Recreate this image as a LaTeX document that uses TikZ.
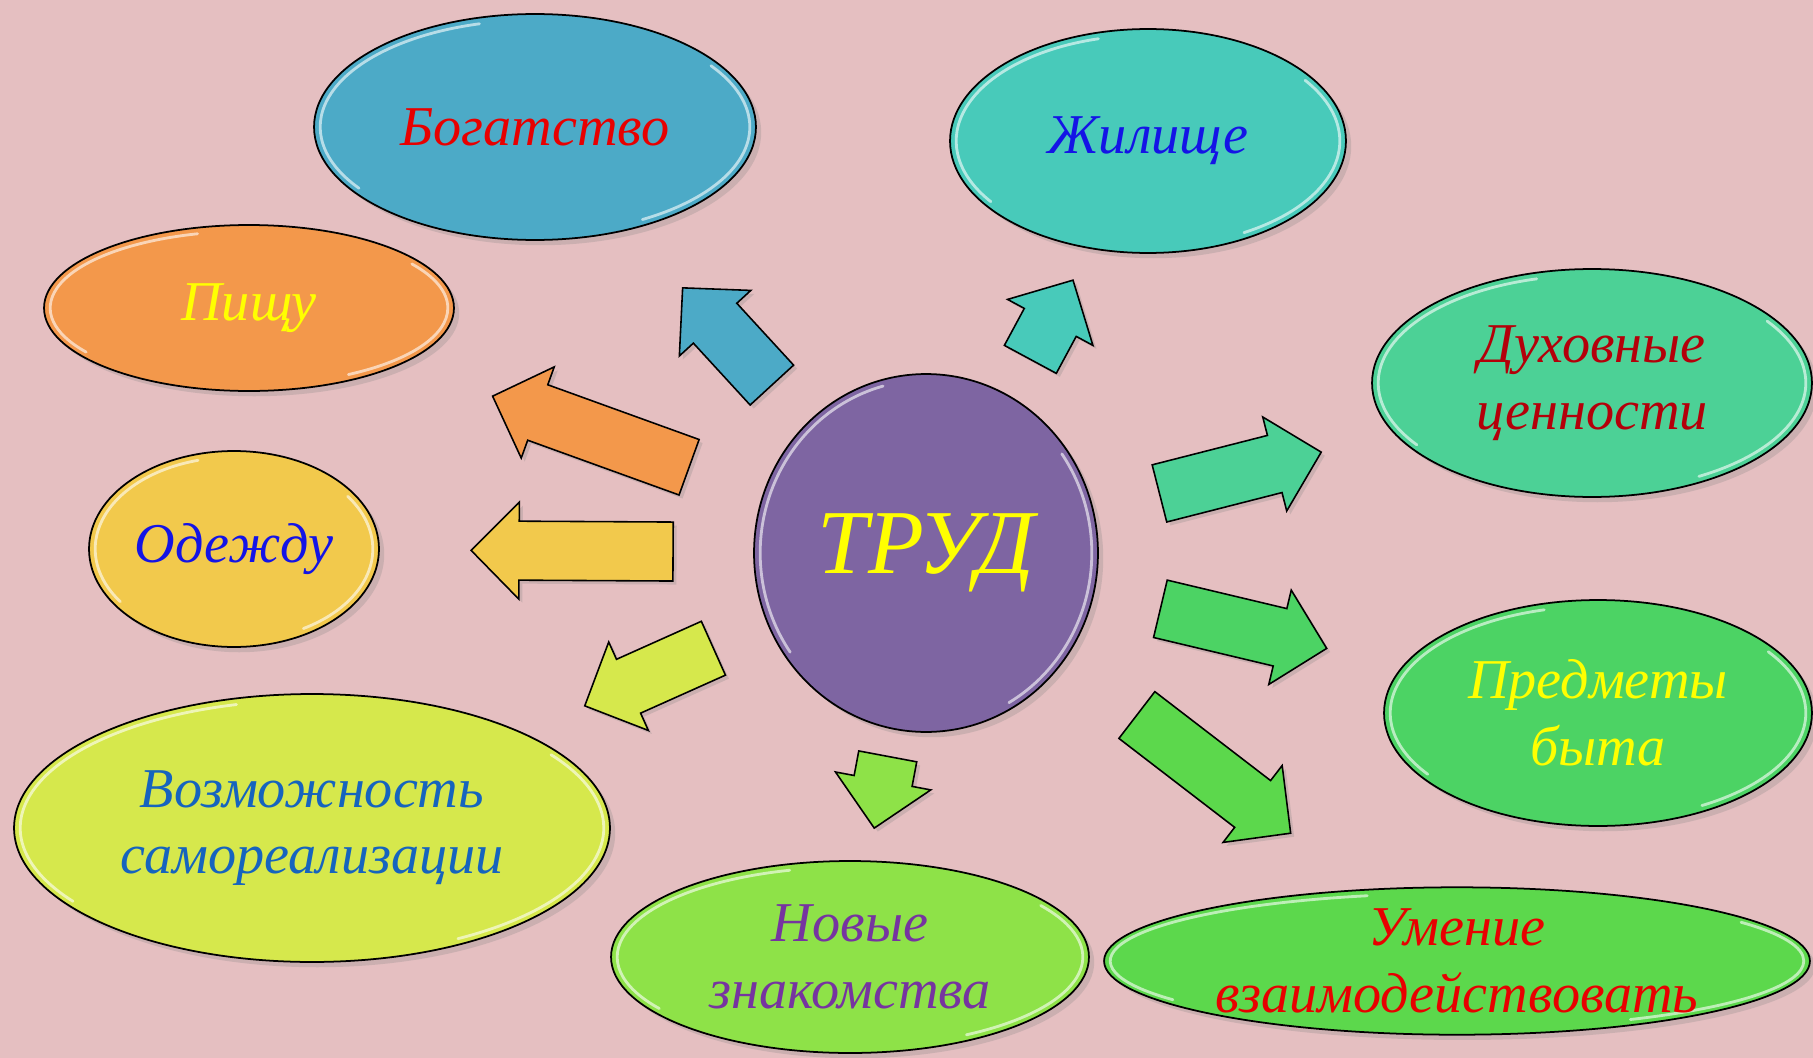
\documentclass[tikz,border=0pt]{standalone}
\usepackage{fontspec}
\setmainfont{Liberation Serif}
\usetikzlibrary{shapes.geometric,calc,shadows}

\definecolor{bgpink}{RGB}{229,191,193}
\definecolor{trudviolet}{RGB}{126,101,162}
\definecolor{bogblue}{RGB}{76,170,199}
\definecolor{zhilteal}{RGB}{72,202,186}
\definecolor{pishorange}{RGB}{243,152,75}
\definecolor{dukhgreen}{RGB}{76,209,150}
\definecolor{odezhyellow}{RGB}{242,201,76}
\definecolor{predgreen}{RGB}{76,211,100}
\definecolor{vozlime}{RGB}{214,232,76}
\definecolor{novgreen}{RGB}{142,226,72}
\definecolor{umgreen}{RGB}{92,216,76}
\definecolor{txtred}{RGB}{232,0,0}
\definecolor{txtdarkred}{RGB}{180,0,10}
\definecolor{txtblue}{RGB}{20,20,230}
\definecolor{txtsky}{RGB}{22,100,190}
\definecolor{txtyellow}{RGB}{255,255,0}
\definecolor{txtpurple}{RGB}{118,52,160}

\tikzset{
  gloss/.style={path picture={
    \path let \p1=($(path picture bounding box.north east)-(path picture bounding box.center)$),
      \n1={\x1-3.5pt}, \n2={\y1-3.5pt} in
      [draw=white, opacity=0.6, line width=1.6pt, line cap=round]
      ($(path picture bounding box.center)+(105:\n1 and \n2)$)
        arc[start angle=105, end angle=215, x radius=\n1, y radius=\n2]
      ($(path picture bounding box.center)+(-60:\n1 and \n2)$)
        arc[start angle=-60, end angle=35, x radius=\n1, y radius=\n2];}},
  bubble/.style={ellipse, draw=black, line width=1pt, inner sep=0pt, align=center,
    font=\fontsize{32}{38}\selectfont\itshape, gloss,
    drop shadow={shadow xshift=3pt, shadow yshift=-3pt, opacity=0.25}},
  arrowbody/.style={draw=black, line width=0.9pt, line join=miter,
    drop shadow={shadow xshift=2pt, shadow yshift=-2pt, opacity=0.25}}
}

% block arrow on the line from #1 to #2, tail and tip at distances #3, #4
\newcommand{\blockarr}[5]{%
  \coordinate (ta) at ($(#1)!#3!(#2)$);
  \coordinate (tb) at ($(#1)!#4!(#2)$);
  \coordinate (tc) at ($(tb)!0.96cm!(ta)$);
  \filldraw[arrowbody, fill=#5]
    ($(ta)!0.59cm!90:(tb)$) -- ($(tc)!0.59cm!90:(tb)$) -- ($(tc)!0.97cm!90:(tb)$)
    -- (tb) -- ($(tc)!0.97cm!-90:(tb)$) -- ($(tc)!0.59cm!-90:(tb)$)
    -- ($(ta)!0.59cm!-90:(tb)$) -- cycle;
}

\begin{document}
\begin{tikzpicture}[x=0.02cm, y=-0.02cm]
  \fill[bgpink] (0,0) rectangle (1813,1058);
  \useasboundingbox (0,0) rectangle (1813,1058);

  % centre
  \node[bubble, fill=trudviolet, text=txtyellow, minimum width=6.88cm, minimum height=7.16cm,
    font=\fontsize{52}{56}\selectfont\itshape] (trud) at (926,553) {ТРУД};

  % outer bubbles
  \node[bubble, fill=bogblue, text=txtred, minimum width=8.84cm, minimum height=4.52cm]
    (bogatstvo) at (535,127) {Богатство};
  \node[bubble, fill=zhilteal, text=txtblue, minimum width=7.92cm, minimum height=4.48cm]
    (zhilishche) at (1148,141) {Жилище};
  \node[bubble, fill=pishorange, text=txtyellow, minimum width=8.2cm, minimum height=3.32cm]
    (pishchu) at (249,308) {Пищу};
  \node[bubble, fill=dukhgreen, text=txtdarkred, minimum width=8.8cm, minimum height=4.56cm]
    (dukhovnye) at (1592,383) {Духовные\\ценности};
  \node[bubble, fill=odezhyellow, text=txtblue, minimum width=5.8cm, minimum height=3.92cm]
    (odezhdu) at (234,549) {Одежду};
  \node[bubble, fill=predgreen, text=txtyellow, minimum width=8.56cm, minimum height=4.52cm]
    (predmety) at (1598,713) {Предметы\\быта};
  \node[bubble, fill=vozlime, text=txtsky, minimum width=11.92cm, minimum height=5.36cm]
    (vozmozhnost) at (312,828) {Возможность\\самореализации};
  \node[bubble, fill=novgreen, text=txtpurple, minimum width=9.56cm, minimum height=3.84cm]
    (novye) at (850,957) {Новые\\знакомства};
  \node[bubble, fill=umgreen, text=txtred, minimum width=14.12cm, minimum height=2.92cm]
    (umenie) at (1457,961) {Умение\\взаимодействовать};

  % arrows from the centre
  \blockarr{trud}{bogatstvo}{4.56cm}{7.2cm}{bogblue}
  \blockarr{trud}{zhilishche}{4.4cm}{6.2cm}{zhilteal}
  \blockarr{trud}{pishchu}{5.04cm}{9.22cm}{pishorange}
  \blockarr{trud}{odezhdu}{5.06cm}{9.1cm}{odezhyellow}
  \blockarr{trud}{vozmozhnost}{4.66cm}{7.48cm}{vozlime}
  \blockarr{trud}{novye}{4.14cm}{5.6cm}{novgreen}
  \blockarr{trud}{dukhovnye}{4.82cm}{8.16cm}{dukhgreen}
  \blockarr{trud}{predmety}{4.82cm}{8.24cm}{predgreen}
  \blockarr{trud}{umenie}{5.32cm}{9.2cm}{umgreen}
\end{tikzpicture}
\end{document}
